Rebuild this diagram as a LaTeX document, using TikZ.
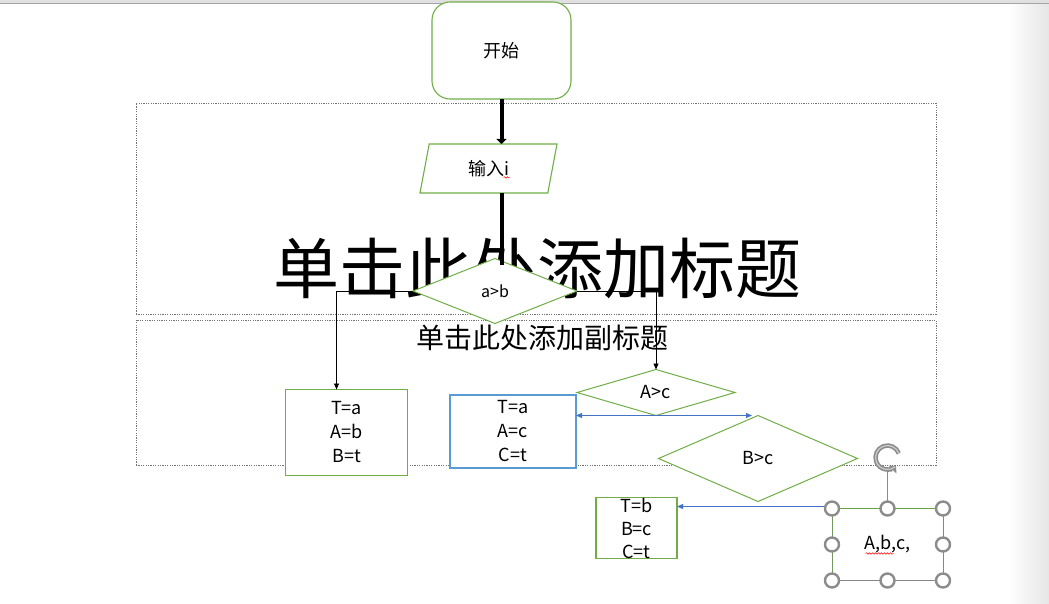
\documentclass[tikz,border=0pt]{standalone}
\usepackage{fontspec}
\setmainfont{Noto Sans CJK SC}
\usetikzlibrary{arrows.meta,shapes.geometric,decorations.pathmorphing}
\definecolor{figG}{RGB}{112,173,71}
\definecolor{figB}{RGB}{68,114,196}
\definecolor{figL}{RGB}{91,155,213}
\definecolor{figH}{RGB}{140,140,140}

\begin{document}
\begin{tikzpicture}[x=1pt,y=-1pt,>={Triangle[length=6pt,width=5pt]},
  every node/.style={inner sep=0pt,outer sep=0pt},
  txt/.style={font=\fontsize{18}{24}\selectfont,align=center},
  gbox/.style={txt,draw=figG,fill=white,line width=1.1pt},
  decision/.style={txt,diamond,draw=figG,fill=white,line width=1pt},
  holder/.style={draw=black!55,line width=0.7pt,dash pattern=on 1.2pt off 1.2pt},
  handle/.style={draw=figH,fill=white,line width=2.4pt},
  squiggle/.style={red,line width=0.5pt,decorate,decoration={snake,amplitude=0.8pt,segment length=3pt}}]
\useasboundingbox (0,0) rectangle (1049,603);
% window edges
\fill[black!12] (0,0) rectangle (1049,3);
\draw[black!35,line width=0.6pt] (0,3.5) -- (1049,3.5);
\shade[left color=white,right color=black!10] (1008,4) rectangle (1049,603);

% placeholders of the slide
\node[holder,minimum width=800,minimum height=211] (titlebox) at (536,208.5) {};
\node[holder,minimum width=800,minimum height=145] (subbox) at (536,392.5) {};
\node[font=\fontsize{66}{70}\selectfont] (title) at (537,268) {单击此处添加标题};
\node[font=\fontsize{28}{32}\selectfont] (subtitle) at (542,338) {单击此处添加副标题};

% flow chart
\node[gbox,rounded corners=18pt,minimum width=139,minimum height=97] (start) at (501.5,50.5) {开始};
\node[gbox,trapezium,trapezium left angle=61,trapezium right angle=119,
  trapezium stretches body,minimum width=137,minimum height=49] (input) at (488.5,168.5) {输入i};
\node[decision,minimum width=164,minimum height=65,font=\fontsize{16}{20}\selectfont] (ab) at (495,291) {a>b};
\node[decision,minimum width=158,minimum height=46] (Ac) at (656,392.5) {A>c};
\node[decision,minimum width=199,minimum height=86] (Bc) at (758,458.5) {B>c};
\node[gbox,minimum width=122,minimum height=86] (swapab) at (346.5,432.5) {T=a\\A=b\\B=t};
\node[gbox,draw=figL,minimum width=126,minimum height=73] (swapac) at (513,431.5) {T=a\\A=c\\C=t};
\node[gbox,minimum width=81,minimum height=54,font=\fontsize{18}{23}\selectfont] (swapbc) at (636.5,528) {T=b\\B=c\\C=t};
\node[gbox,line width=0.8pt,minimum width=111,minimum height=72] (out) at (887.5,544.5) {A,b,c,};
\coordinate (outlink) at ([yshift=2]out.north west);

\draw[line width=4pt,-{Triangle[length=5pt,width=10pt]}] (start.south) -- (input.north -| start.south);
\draw[line width=4pt] (input.south -| start.south) -- ([yshift=-6]ab.north -| start.south);
\draw[->,line width=0.8pt] (ab.west) -| ([xshift=-10]swapab.north);
\draw[->,line width=0.8pt] (ab.east) -| (Ac.north);
\draw[figB,->,line width=0.9pt] (Ac.south) -- (swapac.east |- Ac.south);
\draw[figB,->,line width=0.9pt] (Ac.south) -- ([xshift=-6]Bc.north);
\draw[figB,->,line width=0.9pt] (outlink) -- (swapbc.east |- outlink);

% spelling marks
\draw[squiggle] ([xshift=15,yshift=-9]input.center) -- ++(6,0);
\draw[squiggle] ([xshift=-22,yshift=-9]out.center) -- ++(28,0);

% selection handles
\draw[black!50,dash pattern=on 1pt off 1pt,line width=0.6pt] (out.north west) rectangle (out.south east);
\coordinate (rot) at ([yshift=87]out.center);
\draw[figH,line width=1.5pt] (out.north) -- ([yshift=-13]rot);
\draw[figH,line width=4.5pt,-{Triangle[length=5pt,width=11pt]}] ([xshift=11.3,yshift=4.1]rot) arc[start angle=-20,end angle=-315,radius=12];
\draw[black!20,line width=1.2pt] ([xshift=11.3,yshift=4.1]rot) arc[start angle=-20,end angle=-310,radius=12];
\foreach \a in {north west,north,north east,west,east,south west,south,south east}
  \draw[handle] (out.\a) circle (7);
\end{tikzpicture}
\end{document}
